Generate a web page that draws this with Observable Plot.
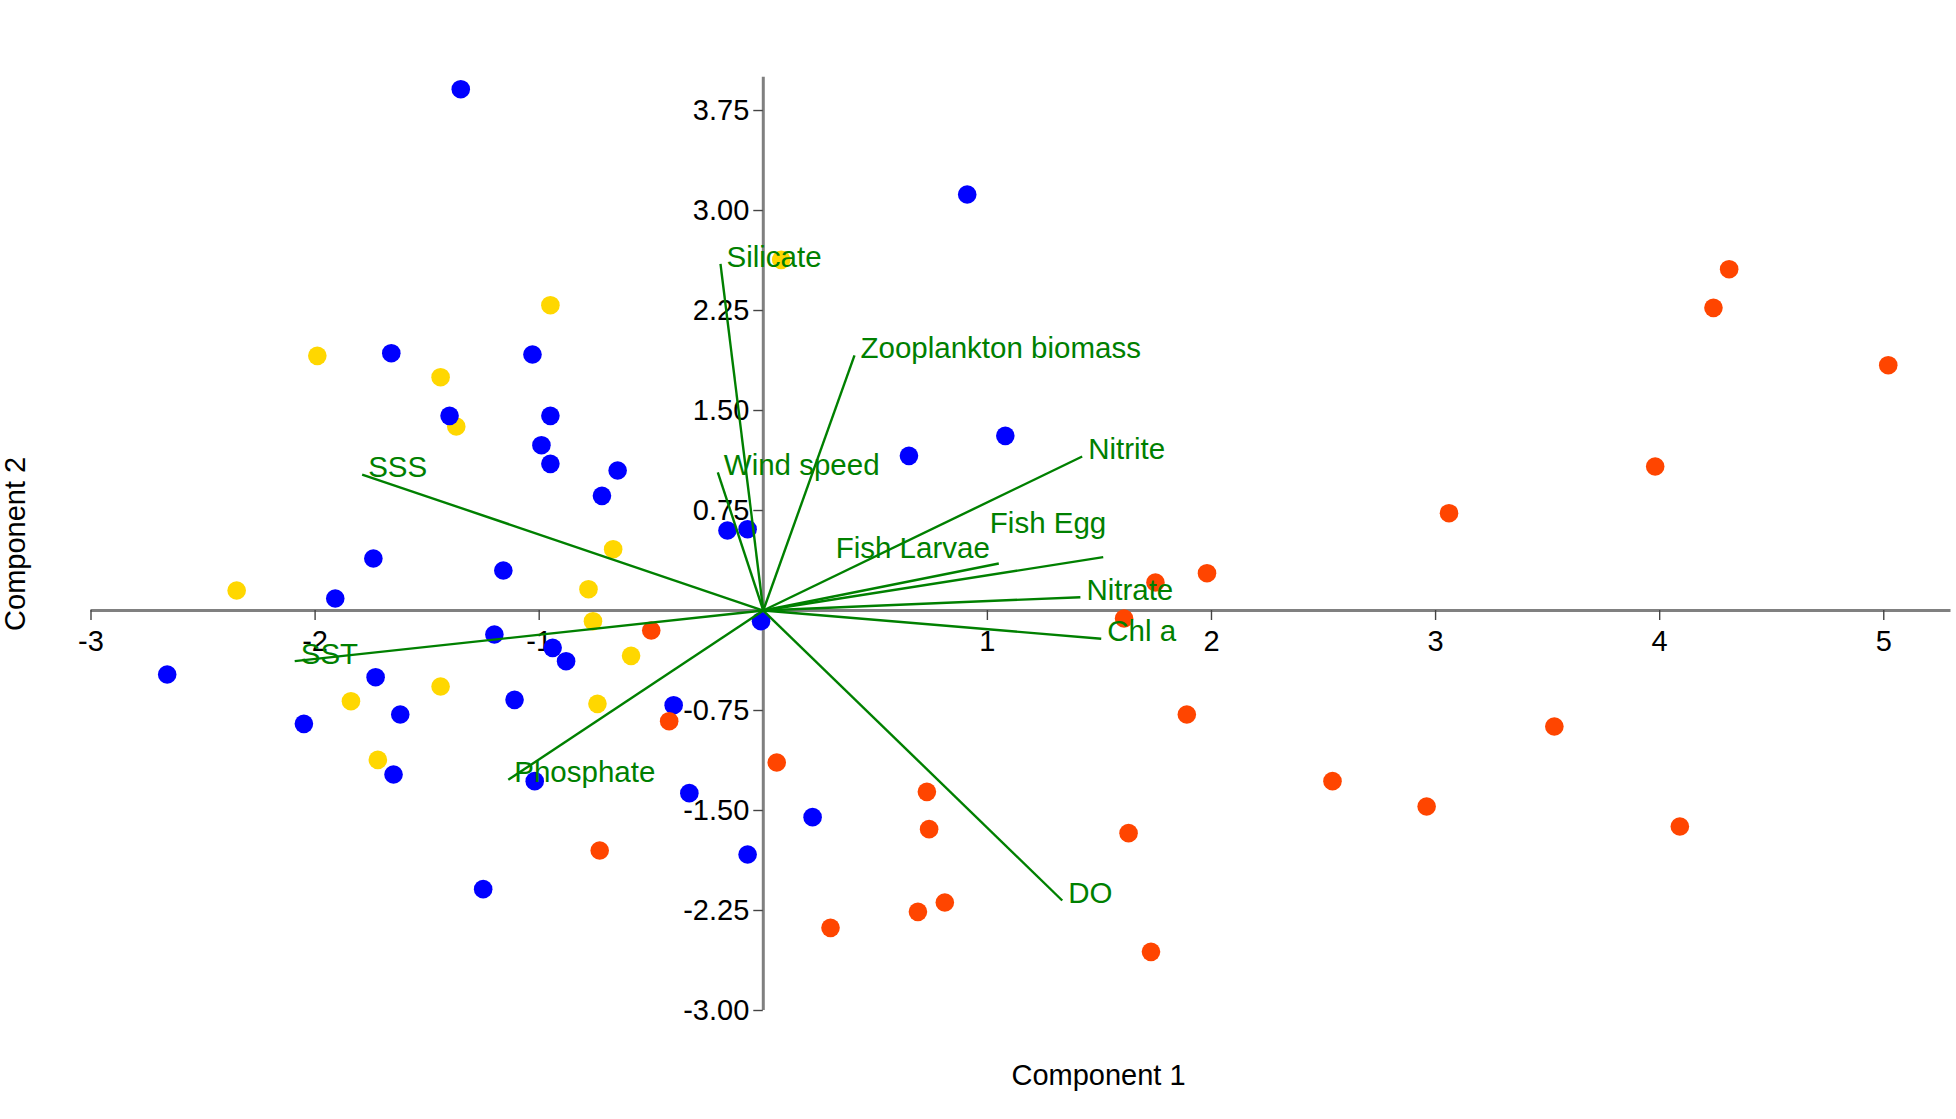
<!DOCTYPE html>
<html>
<head>
<meta charset="utf-8">
<script src="https://cdn.jsdelivr.net/npm/d3@7"></script>
<script src="https://cdn.jsdelivr.net/npm/@observablehq/plot@0.6"></script>
<style>
  html, body { margin: 0; padding: 0; background: #fff; overflow: hidden; }
  #chart svg { display: block; }
</style>
</head>
<body>
<div id="chart"></div>
<script>
// ---- Data ----
const xTicks = [-3, -2, -1, 1, 2, 3, 4, 5];
const yTicks = [-3, -2.25, -1.5, -0.75, 0.75, 1.5, 2.25, 3, 3.75];

const groupNames = ["Group A", "Group B", "Group C"];

// Group A (yellow)
const groupAX = [-0.95, -1.99, -1.44, -1.37, 0.08, -0.67, -0.78, -0.76, -0.59, -0.74, -2.35, -1.44, -1.84, -1.72];
const groupAY = [ 2.29,  1.91,  1.75,  1.38, 2.63,  0.46,  0.16, -0.08, -0.34, -0.70,  0.15, -0.57, -0.68, -1.12];

// Group B (blue)
const groupBX = [-1.35, -1.66, -1.03, -1.40, -0.95, -0.99, -0.95, 0.91, 0.65, 1.08, -0.65, -0.72, -0.16, -0.07,
                 -0.01, -0.40, -0.33, 0.22, -0.07, -1.74, -1.16, -1.91, -1.20, -0.94, -0.88, -2.66, -1.73, -1.11,
                 -1.62, -2.05, -1.65, -1.02, -1.25];
const groupBY = [ 3.91,  1.93,  1.92,  1.46,  1.46,  1.24,  1.10, 3.12, 1.16, 1.31,  1.05,  0.86,  0.60,  0.61,
                 -0.08, -0.71, -1.37, -1.55, -1.83,  0.39,  0.30,  0.09, -0.18, -0.28, -0.38, -0.48, -0.50, -0.67,
                 -0.78, -0.85, -1.23, -1.28, -2.09];

// Group C (orange-red)
const groupCX = [-0.50, -0.42, 0.06, 0.73, 0.74, -0.73, 0.81, 0.69, 0.30, 3.06, 4.31, 4.24, 5.02, 3.98,
                  1.98, 1.75, 1.61, 1.89, 2.54, 2.96, 1.63, 1.73, 3.53, 4.09];
const groupCY = [-0.15, -0.83, -1.14, -1.36, -1.64, -1.80, -2.19, -2.26, -2.38, 0.73, 2.56, 2.27, 1.84, 1.08,
                  0.28, 0.21, -0.06, -0.78, -1.28, -1.47, -1.67, -2.56, -0.87, -1.62];

// Loadings (vector end points)
const loadingNames = ["Silicate", "Zooplankton biomass", "Wind speed", "SSS", "Nitrite", "Fish Egg",
                      "Fish Larvae", "Nitrate", "Chl a", "DO", "Phosphate", "SST"];
const loadingX = [-0.191, 0.407, -0.203, -1.790, 1.423, 1.517, 1.051, 1.415, 1.508, 1.334, -1.138, -2.091];
const loadingY = [ 2.600, 1.913,  1.037,  1.020, 1.155, 0.400, 0.353, 0.100, -0.212, -2.175, -1.270, -0.380];

// ---- Styles ----
const groupColors = ["#FFD700", "#0000FF", "#FF4500"];
const green = "#008000";
const axisGray = "#808080";
const font = "'Liberation Sans', Arial, Helvetica, sans-serif";
// label placement exceptions (anchor/offset in pixels)
const labelSpecial = {
  "Fish Larvae": {anchor: "end", dx: -9, dy: -15.4},
  "Fish Egg": {anchor: "end", dx: 3, dy: -33.4}
};

// ---- Build tables ----
const points = [];
[[groupAX, groupAY], [groupBX, groupBY], [groupCX, groupCY]].forEach(([xs, ys], g) => {
  xs.forEach((x, i) => points.push({x, y: ys[i], group: groupNames[g]}));
});
const loadings = loadingNames.map((name, i) => ({name, x: loadingX[i], y: loadingY[i]}));
const loadDefault = loadings.filter(d => !labelSpecial[d.name]);

const specialTextMarks = Object.entries(labelSpecial).map(([name, o]) =>
  Plot.text(loadings.filter(d => d.name === name), {
    x: "x", y: "y", text: "name", textAnchor: o.anchor, dx: o.dx, dy: o.dy,
    fill: green, fontSize: 29.5, lineAnchor: "middle"
  })
);

const chart = Plot.plot({
  width: 1956,
  height: 1119,
  marginLeft: 90.5,
  marginRight: 5.5,
  marginTop: 76.7,
  marginBottom: 109,
  x: {domain: [-3, 5.3], axis: null},
  y: {domain: [-3, 4], axis: null},
  color: {domain: groupNames, range: groupColors},
  style: {fontFamily: font, background: "#fff", overflow: "visible"},
  marks: [
    // axes through origin
    Plot.ruleY([0], {stroke: axisGray, strokeWidth: 3}),
    Plot.ruleX([0], {stroke: axisGray, strokeWidth: 3}),
    // x ticks + labels
    Plot.ruleX(xTicks, {x: d => d, y1: () => 0, y2: () => 0, insetTop: 0, insetBottom: -10, stroke: "#444", strokeWidth: 1.4}),
    Plot.text(xTicks, {x: d => d, y: () => 0, text: d => String(d), dy: 20, lineAnchor: "top", fontSize: 29, fill: "#000"}),
    // y ticks + labels
    Plot.ruleY(yTicks, {y: d => d, x1: () => 0, x2: () => 0, insetLeft: -9.5, insetRight: 0, stroke: "#444", strokeWidth: 1.4}),
    Plot.text(yTicks, {x: () => 0, y: d => d, text: d => d.toFixed(2), textAnchor: "end", dx: -14, lineAnchor: "middle", fontSize: 29, fill: "#000"}),
    // points
    Plot.dot(points, {x: "x", y: "y", fill: "group", r: 9.3}),
    // loading vectors
    Plot.link(loadings, {x1: () => 0, y1: () => 0, x2: "x", y2: "y", stroke: green, strokeWidth: 2.4}),
    // loading labels
    Plot.text(loadDefault, {x: "x", y: "y", text: "name", textAnchor: "start", dx: 6, dy: -6.8, lineAnchor: "middle", fill: green, fontSize: 29.5}),
    ...specialTextMarks,
    // axis titles
    Plot.text(["Component 1"], {frameAnchor: "bottom", text: d => d, textAnchor: "middle", lineAnchor: "top", dx: 77.5, dy: 53.6, fontSize: 29, fill: "#000"}),
    Plot.text(["Component 2"], {frameAnchor: "left", text: d => d, textAnchor: "middle", lineAnchor: "middle", rotate: -90, dx: -75.3, fontSize: 29, fill: "#000"})
  ]
});

document.getElementById("chart").appendChild(chart);
</script>
</body>
</html>
